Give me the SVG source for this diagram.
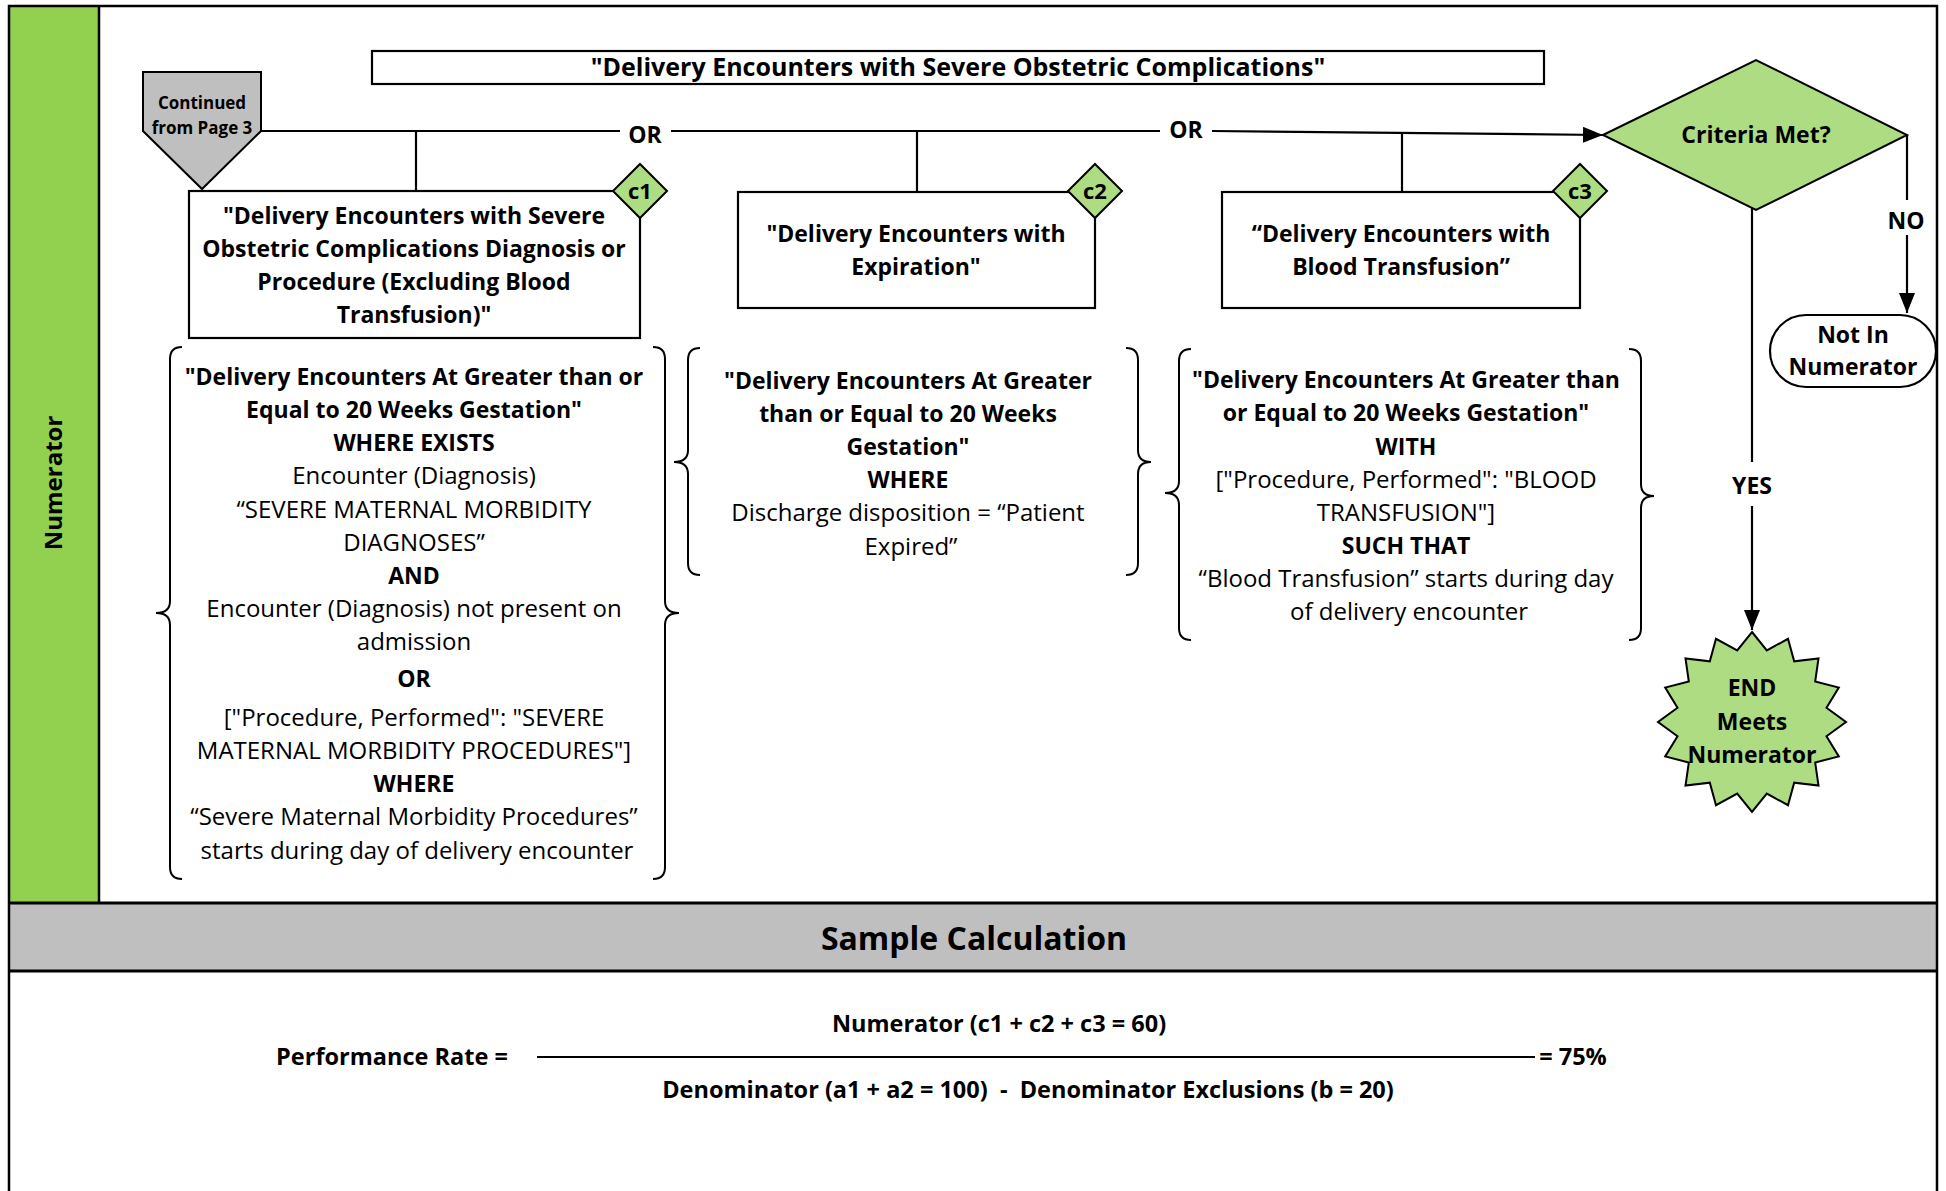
<svg xmlns="http://www.w3.org/2000/svg" width="1946" height="1191" viewBox="0 0 1946 1191">
<defs>
<style>
.t{font-family:"Open Sans","Liberation Sans",sans-serif;text-anchor:middle;fill:#000}
.b{font-weight:700}
.s22{font-size:23px}
.n{font-size:24px;font-weight:400}
.s21{font-size:23.5px}
.box{fill:#fff;stroke:#000;stroke-width:2.2}
.lg{fill:#AEDC82;stroke:#000;stroke-width:2}
.ln{fill:none;stroke:#000;stroke-width:2.2}
.br{fill:none;stroke:#000;stroke-width:2}
</style>
<marker id="ah" markerUnits="userSpaceOnUse" markerWidth="20" markerHeight="16" refX="20" refY="8" orient="auto">
<path d="M0,0 L20,8 L0,16 z" fill="#000"/>
</marker>
</defs>
<rect x="0" y="0" width="1946" height="1191" fill="#fff"/>
<g id="frame">
<rect x="9" y="6" width="90" height="897" fill="#92D050"/>
<rect x="9" y="903" width="1928" height="68" fill="#BFBFBF"/>
<path d="M9,1195 L9,6 L1937,6 L1937,1195" fill="none" stroke="#000" stroke-width="2.5"/>
<line x1="99" y1="6" x2="99" y2="903" stroke="#000" stroke-width="2.5"/>
<line x1="9" y1="903" x2="1937" y2="903" stroke="#000" stroke-width="3"/>
<line x1="9" y1="971" x2="1937" y2="971" stroke="#000" stroke-width="3"/>
<text class="t b" font-size="24" transform="translate(54,483) rotate(-90)" y="8">Numerator</text>
<text class="t b" font-size="32" x="974" y="950">Sample Calculation</text>
</g>
<g id="title">
<rect class="box" x="372" y="51" width="1172" height="33"/>
<text class="t b" font-size="25" x="958" y="76">"Delivery Encounters with Severe Obstetric Complications"</text>
</g>
<g id="continued">
<polygon points="143,72 261,72 261,131 202,189 143,131" fill="#BFBFBF" stroke="#000" stroke-width="2"/>
<text class="t b" font-size="17" x="202" y="109">Continued</text>
<text class="t b" font-size="17" x="202" y="134">from Page 3</text>
</g>
<g id="connectors">
<line class="ln" x1="261" y1="131" x2="620" y2="131"/>
<line class="ln" x1="671" y1="131" x2="1160" y2="131"/>
<line class="ln" x1="1212" y1="131" x2="1603" y2="135" marker-end="url(#ah)"/>
<line class="ln" x1="416" y1="131" x2="416" y2="191"/>
<line class="ln" x1="917" y1="131" x2="917" y2="192"/>
<line class="ln" x1="1402" y1="132" x2="1402" y2="191"/>
<text class="t b s22" x="645" y="143">OR</text>
<text class="t b s22" x="1186" y="138">OR</text>
<line class="ln" x1="1907" y1="135" x2="1907" y2="200"/>
<line class="ln" x1="1907" y1="235" x2="1907" y2="313" marker-end="url(#ah)"/>
<text class="t b s22" x="1906" y="229">NO</text>
<line class="ln" x1="1752" y1="208" x2="1752" y2="462"/>
<line class="ln" x1="1752" y1="506" x2="1752" y2="630" marker-end="url(#ah)"/>
<text class="t b s22" x="1752" y="494">YES</text>
</g>
<g id="c1">
<rect class="box" x="189" y="191" width="451" height="147"/>
<text class="t b s22"><tspan x="414" y="224">"Delivery Encounters with Severe</tspan><tspan x="414" y="257">Obstetric Complications Diagnosis or</tspan><tspan x="414" y="290">Procedure (Excluding Blood</tspan><tspan x="414" y="323">Transfusion)"</tspan></text>
<polygon class="lg" points="640,164 667,191 640,218 613,191"/>
<text class="t b" font-size="22" x="640" y="199">c1</text>
</g>
<g id="c2">
<rect class="box" x="738" y="192" width="357" height="116"/>
<text class="t b s22"><tspan x="916" y="242">"Delivery Encounters with</tspan><tspan x="916" y="275">Expiration"</tspan></text>
<polygon class="lg" points="1095,164 1122,191 1095,218 1068,191"/>
<text class="t b" font-size="22" x="1095" y="199">c2</text>
</g>
<g id="c3">
<rect class="box" x="1222" y="192" width="358" height="116"/>
<text class="t b s22"><tspan x="1401" y="242">“Delivery Encounters with</tspan><tspan x="1401" y="275">Blood Transfusion”</tspan></text>
<polygon class="lg" points="1580,164 1607,191 1580,218 1553,191"/>
<text class="t b" font-size="22" x="1580" y="199">c3</text>
</g>
<g id="c1-criteria">
<path class="br" d="M182,347 Q170,347 170,359 L170,601 Q170,613 156,613 Q170,613 170,625 L170,867 Q170,879 182,879"/>
<path class="br" d="M653,347 Q665,347 665,359 L665,601 Q665,613 679,613 Q665,613 665,625 L665,867 Q665,879 653,879"/>
<text class="t b s22">
<tspan x="417" y="385">"Delivery Encounters At Greater than or</tspan>
<tspan x="417" y="418">Equal to 20 Weeks Gestation"</tspan>
<tspan x="417" y="451">WHERE EXISTS</tspan>
<tspan class="n" x="417" y="484">Encounter (Diagnosis)</tspan>
<tspan class="n" x="417" y="518">“SEVERE MATERNAL MORBIDITY</tspan>
<tspan class="n" x="417" y="551">DIAGNOSES”</tspan>
<tspan x="417" y="584">AND</tspan>
<tspan class="n" x="417" y="617">Encounter (Diagnosis) not present on</tspan>
<tspan class="n" x="417" y="650">admission</tspan>
<tspan x="417" y="687">OR</tspan>
<tspan class="n" x="417" y="726">["Procedure, Performed": "SEVERE</tspan>
<tspan class="n" x="417" y="759">MATERNAL MORBIDITY PROCEDURES"]</tspan>
<tspan x="417" y="792">WHERE</tspan>
<tspan class="n" x="417" y="825">“Severe Maternal Morbidity Procedures”</tspan>
<tspan class="n" x="417" y="859">starts during day of delivery encounter</tspan>
</text>
</g>
<g id="c2-criteria">
<path class="br" d="M700,348 Q688,348 688,360 L688,450 Q688,462 674,462 Q688,462 688,474 L688,563 Q688,575 700,575"/>
<path class="br" d="M1126,348 Q1138,348 1138,360 L1138,450 Q1138,462 1151,462 Q1138,462 1138,474 L1138,563 Q1138,575 1126,575"/>
<text class="t b s22">
<tspan x="911" y="389">"Delivery Encounters At Greater</tspan>
<tspan x="911" y="422">than or Equal to 20 Weeks</tspan>
<tspan x="911" y="455">Gestation"</tspan>
<tspan x="911" y="488">WHERE</tspan>
<tspan class="n" x="911" y="521">Discharge disposition = “Patient</tspan>
<tspan class="n" x="911" y="555">Expired”</tspan>
</text>
</g>
<g id="c3-criteria">
<path class="br" d="M1191,349 Q1179,349 1179,361 L1179,481 Q1179,493 1165,493 Q1179,493 1179,505 L1179,628 Q1179,640 1191,640"/>
<path class="br" d="M1629,349 Q1641,349 1641,361 L1641,484 Q1641,496 1654,496 Q1641,496 1641,508 L1641,628 Q1641,640 1629,640"/>
<text class="t b s22">
<tspan x="1409" y="388">"Delivery Encounters At Greater than</tspan>
<tspan x="1409" y="421">or Equal to 20 Weeks Gestation"</tspan>
<tspan x="1409" y="455">WITH</tspan>
<tspan class="n" x="1409" y="488">["Procedure, Performed": "BLOOD</tspan>
<tspan class="n" x="1409" y="521">TRANSFUSION"]</tspan>
<tspan x="1409" y="554">SUCH THAT</tspan>
<tspan class="n" x="1409" y="587">“Blood Transfusion” starts during day</tspan>
<tspan class="n" x="1409" y="620">of delivery encounter</tspan>
</text>
</g>
<g id="criteria-met">
<polygon class="lg" points="1603,135 1756,60 1907,135 1756,210"/>
<text class="t b s22" x="1756" y="143">Criteria Met?</text>
</g>
<g id="not-in-numerator">
<rect x="1770" y="315" width="166" height="72" rx="36" ry="36" fill="#fff" stroke="#000" stroke-width="2.2"/>
<text class="t b s22"><tspan x="1853" y="343">Not In</tspan><tspan x="1853" y="375">Numerator</tspan></text>
</g>
<g id="end">
<polygon class="lg" points="1752,632 1766.8,650.4 1788,638.8 1794.2,661.3 1818.5,658.4 1815.2,681.4 1838.8,687.6 1826.5,707.8 1846,722 1826.5,736.2 1838.8,756.4 1815.2,762.6 1818.5,785.6 1794.2,782.7 1788,805.2 1766.8,793.6 1752,812 1737.2,793.6 1716,805.2 1709.8,782.7 1685.5,785.6 1688.8,762.6 1665.2,756.4 1677.5,736.2 1658,722 1677.5,707.8 1665.2,687.6 1688.8,681.4 1685.5,658.4 1709.8,661.3 1716,638.8 1737.2,650.4"/>
<text class="t b s22"><tspan x="1752" y="696">END</tspan><tspan x="1752" y="730">Meets</tspan><tspan x="1752" y="763">Numerator</tspan></text>
</g>
<g id="calculation">
<text class="t b s21" x="392" y="1065">Performance Rate =</text>
<line x1="537" y1="1057" x2="1535" y2="1057" stroke="#000" stroke-width="2"/>
<text class="t b s21" x="1573" y="1065">= 75%</text>
<text class="t b s21" x="999" y="1032">Numerator (c1 + c2 + c3 = 60)</text>
<text class="t b s21" x="1028" y="1098" xml:space="preserve">Denominator (a1 + a2 = 100)  -  Denominator Exclusions (b = 20)</text>
</g>
</svg>
